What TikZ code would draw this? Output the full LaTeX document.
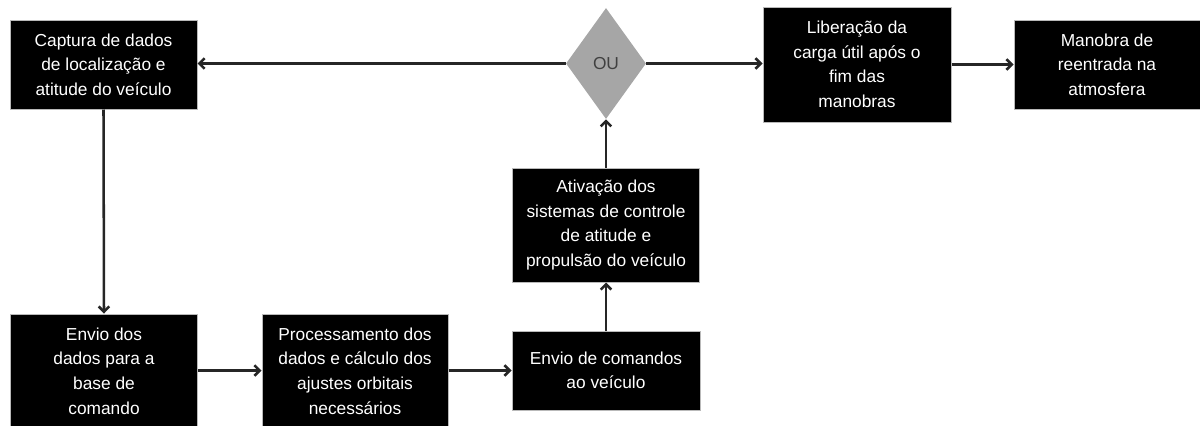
\documentclass[tikz,border=0pt]{standalone}
\usepackage{fontspec}
\setmainfont{Liberation Sans}
\usetikzlibrary{shapes.geometric,arrows.meta}
\begin{document}
\begin{tikzpicture}[x=0.75pt,y=-0.75pt,
  box/.style={rectangle, fill=black, draw=gray!55, line width=0.75pt, text=white, align=center, inner sep=0pt,
    font=\fontsize{13}{18.4}\selectfont},
  gate/.style={diamond, fill=black!35, draw=none, inner sep=0pt, text=black!75,
    font=\fontsize{13}{18.4}\selectfont},
  conn/.style={draw=black!85, line width=1.9pt, -{Straight Barb[length=4pt,width=8pt]}}]
\useasboundingbox (0,0) rectangle (1200,425);
\node[box, minimum width=140.25pt, minimum height=66.75pt] (cap) at (103.5,64.5)
  {Captura de dados\\de localização e\\atitude do veículo};
\node[box, minimum width=140.25pt, minimum height=85.5pt] (env) at (104,371)
  {Envio dos\\dados para a\\base de\\comando};
\node[box, minimum width=139.5pt, minimum height=85.5pt] (proc) at (355,371)
  {Processamento dos\\dados e cálculo dos\\ajustes orbitais\\necessários};
\node[box, minimum width=141pt, minimum height=59.25pt] (envc) at (606,370.5)
  {Envio de comandos\\ao veículo};
\node[box, minimum width=140.25pt, minimum height=85.5pt] (ativ) at (606,225)
  {Ativação dos\\sistemas de controle\\de atitude e\\propulsão do veículo};
\node[gate, minimum width=60pt, minimum height=83.25pt] (ou) at (606,63.5) {OU};
\node[box, minimum width=141pt, minimum height=86.25pt] (lib) at (857,64.5)
  {Liberação da\\carga útil após o\\fim das\\manobras};
\node[box, minimum width=139.5pt, minimum height=66.75pt] (man) at (1107,64.5)
  {Manobra de\\reentrada na\\atmosfera};
\draw[conn] (ou.west) -- (cap.east |- ou.west);
\draw[conn] (cap.south) -- (env.north);
\draw[conn] (env.east |- envc.west) -- (proc.west |- envc.west);
\draw[conn] (proc.east |- envc.west) -- (envc.west);
\draw[conn] (envc.north) -- (ativ.south);
\draw[conn] (ativ.north) -- (ou.south);
\draw[conn] (ou.east) -- (lib.west |- ou.east);
\draw[conn] (lib.east |- man.west) -- (man.west);
\end{tikzpicture}
\end{document}
